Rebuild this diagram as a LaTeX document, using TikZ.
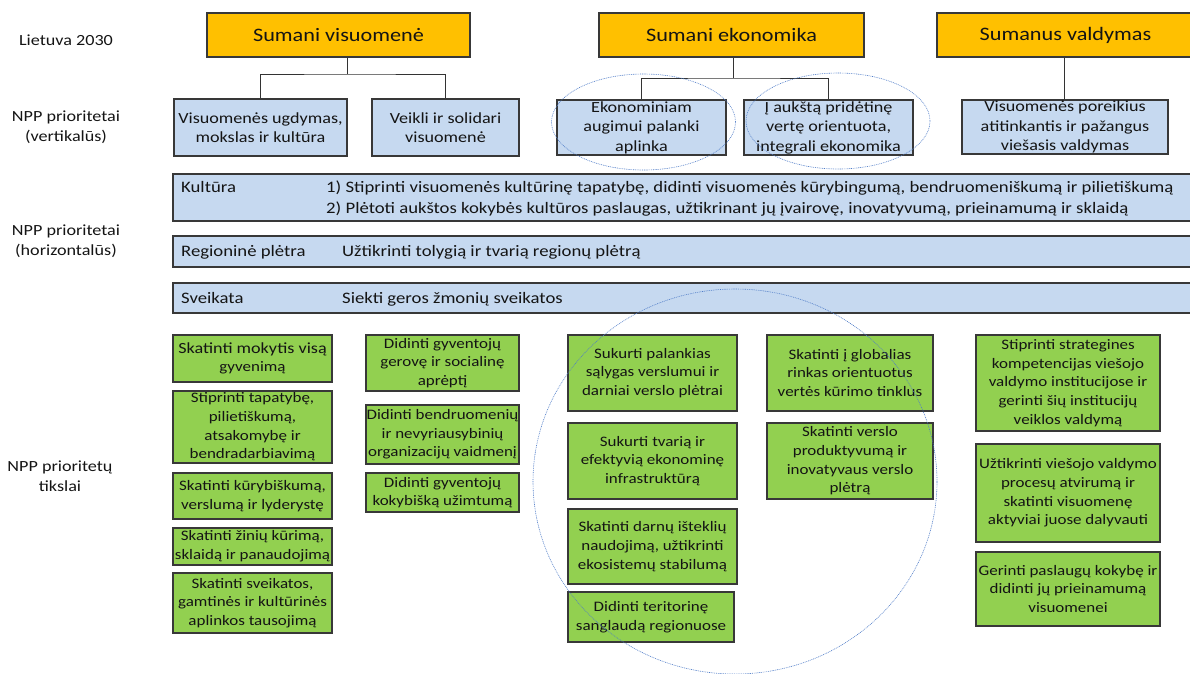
\documentclass[tikz,border=0pt]{standalone}
\usepackage{fontspec}
\setmainfont{Carlito}[FakeStretch=1.17]
\usetikzlibrary{shapes.geometric}
\definecolor{orng}{HTML}{FFC000}
\definecolor{lblue}{HTML}{C6D9F0}
\definecolor{grn}{HTML}{92D050}
\definecolor{ovalblue}{RGB}{80,125,200}
\definecolor{txt}{HTML}{141414}
\newcommand\Bx[6]{\node[#1,minimum width={#4-#2},minimum height={#5-#3}] (#6) at ({(#2+#4)/2},{(#3+#5)/2})}
\begin{document}
\begin{tikzpicture}[x=1pt,y=-1pt,
  box/.style={draw=black!78, line width=1.2pt, inner sep=0pt, align=center, text=txt},
  obox/.style={box, fill=orng, font=\fontsize{19}{23}\selectfont},
  bbox/.style={box, fill=lblue, font=\fontsize{15.5}{19.5}\selectfont},
  gbox/.style={box, fill=grn, font=\fontsize{14.5}{18.7}\selectfont},
  band/.style={draw=black!78, line width=1.2pt, fill=lblue, inner sep=0pt},
  btext/.style={inner sep=0pt, anchor=base west, text=txt, font=\fontsize{16}{19}\selectfont},
  lbl/.style={align=center, inner sep=0pt, text=txt, font=\fontsize{15.5}{20}\selectfont},
  conn/.style={draw=black!80, line width=1pt},
  oval/.style={draw=ovalblue, line width=0.6pt, dash pattern=on 0.9pt off 0.9pt, ellipse, inner sep=0pt}]
\useasboundingbox (0,0) rectangle (1190,673);

% left labels
\node[lbl] (l1) at (66,40) {Lietuva 2030};
\node[lbl] (l2) at (66,127) {NPP prioritetai\\(vertikalūs)};
\node[lbl] (l3) at (66,241) {NPP prioritetai\\(horizontalūs)};
\node[lbl] (l4) at (60,476) {NPP prioritetų\\tikslai};

% orange
\Bx{obox}{207}{13}{470}{57}{oA} {Sumani visuomenė};
\Bx{obox}{599}{13}{864}{57}{oB} {Sumani ekonomika};
\Bx{obox}{937}{13}{1194}{57}{oC} {Sumanus valdymas};

% blue vertical priorities
\Bx{bbox}{174}{99}{347}{156}{b1} {Visuomenės ugdymas,\\mokslas ir kultūra};
\Bx{bbox}{372}{99}{519}{156}{b2} {Veikli ir solidari\\visuomenė};
\Bx{bbox}{557}{100}{726}{155}{b3} {Ekonominiam\\augimui palanki\\aplinka};
\Bx{bbox}{744}{100}{913}{155}{b4} {Į aukštą pridėtinę\\vertę orientuota,\\integrali ekonomika};
\Bx{bbox}{962}{100}{1168}{154}{b5} {Visuomenės poreikius\\atitinkantis ir pažangus\\viešasis valdymas};

% tree connectors
\coordinate (tA) at (347,74);
\coordinate (tB) at (733,78);
\draw[conn] (oA.south -| tA) -- (tA);
\draw[conn] (b1.north) |- (tA) -| (b2.north);
\draw[conn] (oB.south -| tB) -- (tB);
\draw[conn] (b3.north) |- (tB) -| (b4.north);
\draw[conn] (b5.north -| 1064,0) -- (oC.south -| 1064,0);

% horizontal bands
\Bx{band}{173}{174}{1205}{221}{kult} {};
\Bx{band}{173}{236}{1205}{267}{reg} {};
\Bx{band}{173}{283}{1205}{313}{sv} {};
\node[btext] (kultL) at (181,192) {Kultūra};
\node[btext] (kult1) at (326,192) {1) Stiprinti visuomenės kultūrinę tapatybę, didinti visuomenės kūrybingumą, bendruomeniškumą ir pilietiškumą};
\node[btext] (kult2) at (326,213) {2) Plėtoti aukštos kokybės kultūros paslaugas, užtikrinant jų įvairovę, inovatyvumą, prieinamumą ir sklaidą};
\node[btext] (regL) at (181,256) {Regioninė plėtra};
\node[btext] (reg1) at (342,256) {Užtikrinti tolygią ir tvarią regionų plėtrą};
\node[btext] (svL) at (181,303) {Sveikata};
\node[btext] (sv1) at (342,303) {Siekti geros žmonių sveikatos};

% green column 1
\Bx{gbox}{173}{335}{332}{382}{g1} {\fontsize{15.5}{18}\selectfont Skatinti mokytis visą\\gyvenimą};
\Bx{gbox}{173}{391}{332}{463}{g2} {Stiprinti tapatybę,\\pilietiškumą,\\atsakomybę ir\\bendradarbiavimą};
\Bx{gbox}{173}{473}{332}{519}{g3} {Skatinti kūrybiškumą,\\verslumą ir lyderystę};
\Bx{gbox}{173}{528}{332}{565}{g4} {Skatinti žinių kūrimą,\\sklaidą ir panaudojimą};
\Bx{gbox}{173}{573}{332}{633}{g5} {Skatinti sveikatos,\\gamtinės ir kultūrinės\\aplinkos tausojimą};

% green column 2
\Bx{gbox}{366}{335}{519}{391}{h1} {Didinti gyventojų\\gerovę ir socialinę\\aprėptį};
\Bx{gbox}{366}{405}{519}{464}{h2} {Didinti bendruomenių\\ir nevyriausybinių\\organizacijų vaidmenį};
\Bx{gbox}{366}{473}{519}{512}{h3} {Didinti gyventojų\\kokybišką užimtumą};

% green column 3
\Bx{gbox}{568}{335}{737}{411}{i1} {Sukurti palankias\\sąlygas verslumui ir\\darniai verslo plėtrai};
\Bx{gbox}{568}{423}{737}{499}{i2} {Sukurti tvarią ir\\efektyvią ekonominę\\infrastruktūrą};
\Bx{gbox}{568}{509}{737}{584}{i3} {Skatinti darnų išteklių\\naudojimą, užtikrinti\\ekosistemų stabilumą};
\Bx{gbox}{568}{592}{734}{642}{i4} {Didinti teritorinę\\sanglaudą regionuose};

% green column 4
\Bx{gbox}{767}{335}{933}{411}{j1} {Skatinti į globalias\\rinkas orientuotus\\vertės kūrimo tinklus};
\Bx{gbox}{767}{423}{933}{499}{j2} {Skatinti verslo\\produktyvumą ir\\inovatyvaus verslo\\plėtrą};

% green column 5
\Bx{gbox}{976}{335}{1160}{431}{k1} {Stiprinti strategines\\kompetencijas viešojo\\valdymo institucijose ir\\gerinti šių institucijų\\veiklos valdymą};
\Bx{gbox}{976}{444}{1160}{542}{k2} {Užtikrinti viešojo valdymo\\procesų atvirumą ir\\skatinti visuomenę\\aktyviai juose dalyvauti};
\Bx{gbox}{976}{552}{1160}{626}{k3} {Gerinti paslaugų kokybę ir\\didinti jų prieinamumą\\visuomenei};

% dotted ellipses
\node[oval, minimum width=184pt, minimum height=96pt] (e1) at (643.5,122) {};
\node[oval, minimum width=184pt, minimum height=96pt] (e2) at (838,121) {};
\node[oval, minimum width=404pt, minimum height=385pt] (e3) at (735,481.5) {};
\end{tikzpicture}
\end{document}
